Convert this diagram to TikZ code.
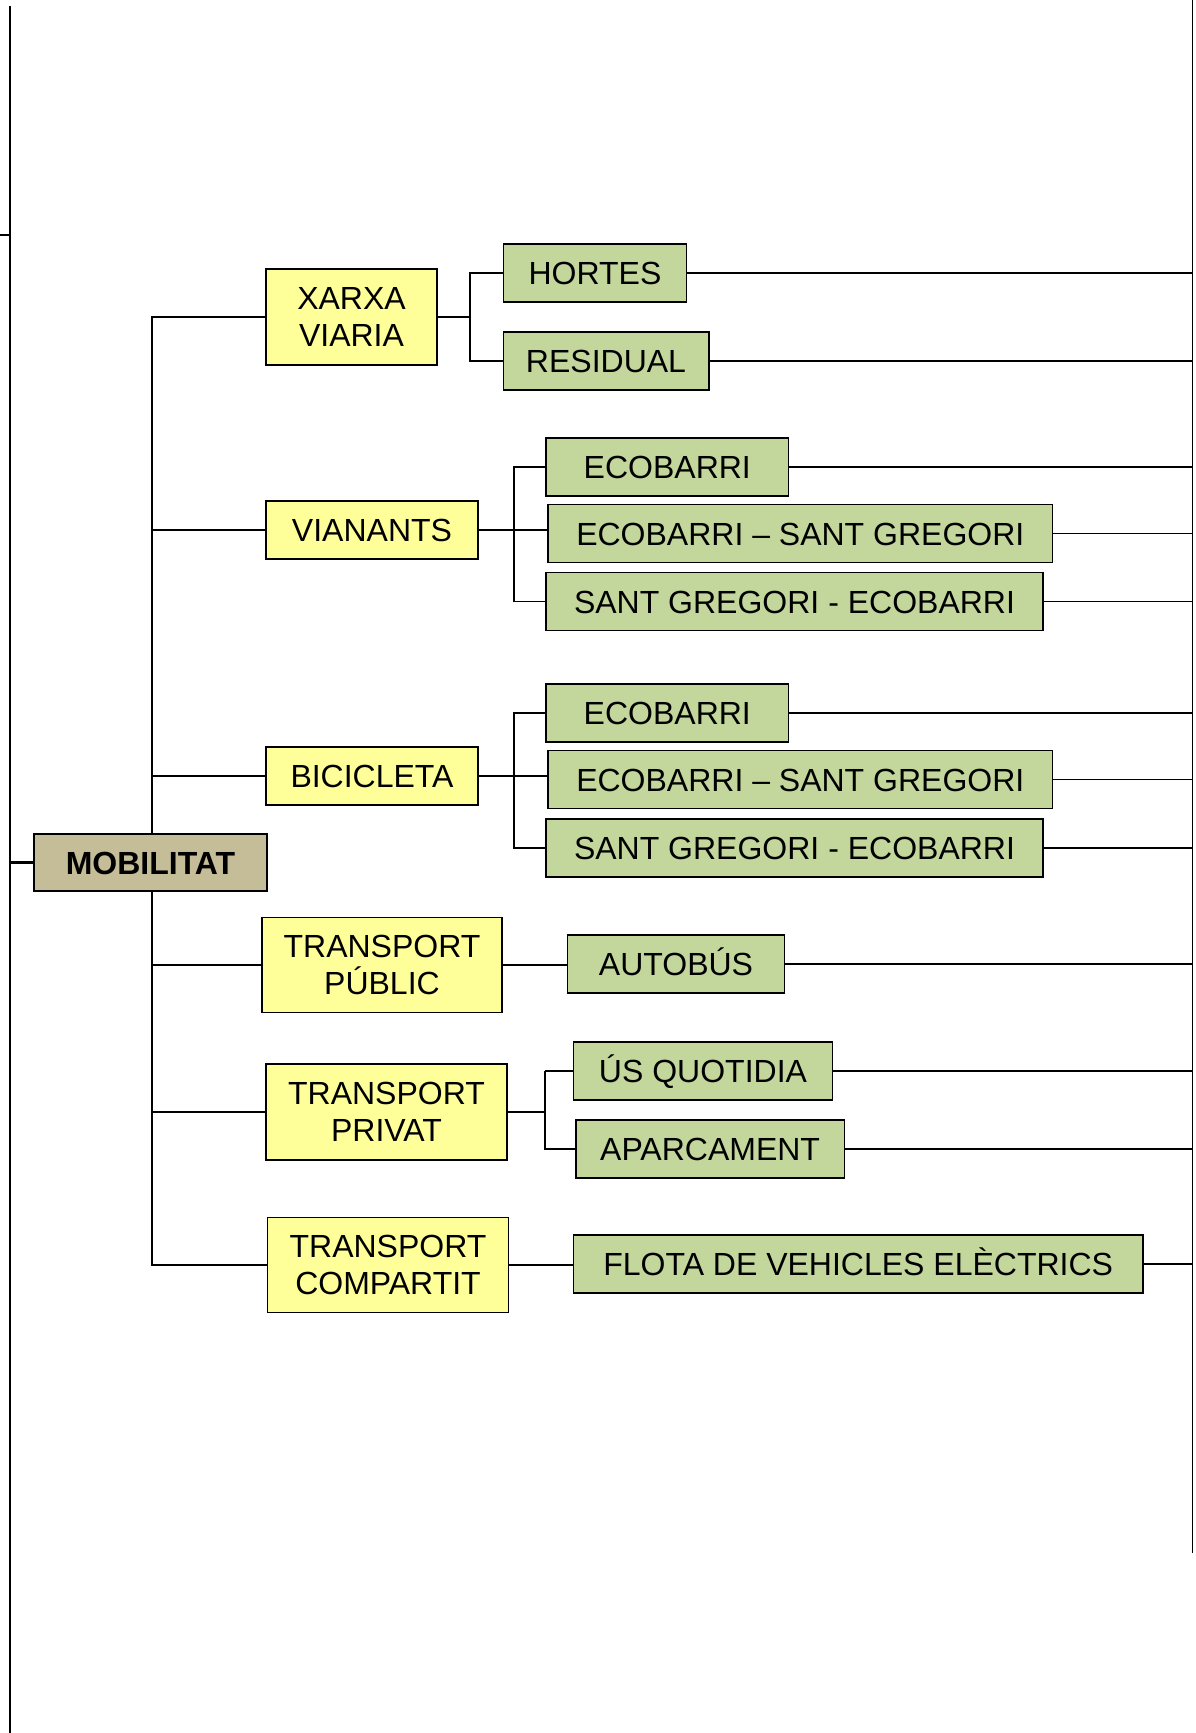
\documentclass[tikz,border=0pt]{standalone}
\usepackage{fontspec}
\setmainfont{Liberation Sans}
\usetikzlibrary{backgrounds}
\definecolor{yelfill}{HTML}{FFFF99}
\definecolor{grnfill}{HTML}{C3D69B}
\definecolor{tanfill}{HTML}{C4BD97}
\begin{document}
\begin{tikzpicture}[x=1pt,y=-1pt,
  box/.style={draw=black, line width=1.5pt, inner sep=0pt, minimum height=58pt,
    font=\fontsize{32}{37}\selectfont, align=center},
  onel/.style={text height=23pt, text depth=0pt},
  yel/.style={box, fill=yelfill},
  grn/.style={box, onel, fill=grnfill},
  root/.style={box, onel, fill=tanfill, font=\fontsize{32}{37}\selectfont\bfseries},
  link/.style={line width=1.5pt},
  heavy/.style={line width=2.4pt},
  frame/.style={line width=1.5pt}]
\useasboundingbox (0,0) rectangle (1195,1733);

% page frame lines
\coordinate (fl0) at (10,6);
\coordinate (fl1) at (10,1733);
\coordinate (fr0) at (1192.5,0);
\coordinate (fr1) at (1192.5,1553);
\coordinate (tk0) at (0,235);
\draw[frame] (fl0) -- (fl1);
\draw[frame] (fr0) -- (fr1);
\draw[frame] (tk0) -- (tk0 -| fl0);

% bracket and trunk positions
\coordinate (trk) at (152,0);
\coordinate (bxv) at (470,0);
\coordinate (bvi) at (514,0);
\coordinate (bpr) at (545,0);

% second level
\node[yel, minimum width=171pt, minimum height=96pt] (xv) at (351.5,317) {XARXA\\VIARIA};
\node[yel, onel, minimum width=212pt] (vian) at (372,530) {VIANANTS};
\node[yel, onel, minimum width=212pt] (bici) at (372,776) {BICICLETA};
\node[yel, minimum width=240pt, minimum height=95pt] (tpub) at (382,965) {TRANSPORT\\PÚBLIC};
\node[yel, minimum width=241pt, minimum height=96pt] (tpriv) at (386.5,1112) {TRANSPORT\\PRIVAT};
\node[yel, minimum width=241pt, minimum height=95pt] (tcomp) at (388,1265) {TRANSPORT\\COMPARTIT};

% third level
\node[grn, minimum width=183pt] (hortes) at (595,273) {HORTES};
\node[grn, minimum width=205.5pt] (resid) at (606,361) {RESIDUAL};
\node[grn, minimum width=242.6pt] (v1) at (667.3,467) {ECOBARRI};
\node[grn, minimum width=504.7pt] (v2) at (800.3,533.5) {ECOBARRI – SANT GREGORI};
\node[grn, minimum width=497pt] (v3) at (794.5,601.7) {SANT GREGORI - ECOBARRI};
\node[grn, minimum width=242.6pt] (b1) at (667.3,713.2) {ECOBARRI};
\node[grn, minimum width=504.7pt] (b2) at (800.3,779.7) {ECOBARRI – SANT GREGORI};
\node[grn, minimum width=497pt] (b3) at (794.5,848.2) {SANT GREGORI - ECOBARRI};
\node[grn, minimum width=217.2pt] (bus) at (676,963.9) {AUTOBÚS};
\node[grn, minimum width=258.8pt] (usq) at (703,1071.2) {ÚS QUOTIDIA};
\node[grn, minimum width=268.6pt] (aparc) at (710.1,1148.9) {APARCAMENT};
\node[grn, minimum width=569.1pt] (flota) at (858.2,1263.9) {FLOTA DE VEHICLES ELÈCTRICS};

% root
\node[root, minimum width=233pt, minimum height=57pt] (mob) at (150.5,862.5) {MOBILITAT};

\begin{scope}[on background layer]
% trunk from the root to each category
\draw[link] (xv.west) -- (xv.west -| trk) -- (tcomp.west -| trk) -- (tcomp.west);
\draw[link] (vian.west) -- (vian.west -| trk);
\draw[link] (bici.west) -- (bici.west -| trk);
\draw[link] (tpub.west) -- (tpub.west -| trk);
\draw[link] (tpriv.west) -- (tpriv.west -| trk);
\draw[heavy] (mob.west) -- (mob.west -| fl0);

% brackets to the sub-items
\draw[link] (xv.east) -- (xv.east -| bxv);
\draw[link] (hortes.west) -- (hortes.west -| bxv) -- (resid.west -| bxv) -- (resid.west);

\draw[link] (vian.east) -- (vian.east -| v2.west);
\draw[link] (v1.west) -- (v1.west -| bvi) -- (v3.west -| bvi) -- (v3.west);

\draw[link] (bici.east) -- (bici.east -| b2.west);
\draw[link] (b1.west) -- (b1.west -| bvi) -- (b3.west -| bvi) -- (b3.west);

\draw[link] (tpub.east) -- (tpub.east -| bus.west);

\draw[link] (tpriv.east) -- (tpriv.east -| bpr);
\draw[heavy] (usq.west) -- (usq.west -| bpr);
\draw[link] (usq.west -| bpr) -- (aparc.west -| bpr) -- (aparc.west);

\draw[link] (tcomp.east) -- (tcomp.east -| flota.west);

% links out to the right frame
\draw[heavy] (hortes.east) -- (hortes.east -| fr0);
\draw[link] (resid.east) -- (resid.east -| fr0);
\draw[link] (v1.east) -- (v1.east -| fr0);
\draw[link] (v2.east) -- (v2.east -| fr0);
\draw[link] (v3.east) -- (v3.east -| fr0);
\draw[link] (b1.east) -- (b1.east -| fr0);
\draw[link] (b2.east) -- (b2.east -| fr0);
\draw[link] (b3.east) -- (b3.east -| fr0);
\draw[link] (bus.east) -- (bus.east -| fr0);
\draw[heavy] (usq.east) -- (usq.east -| fr0);
\draw[link] (aparc.east) -- (aparc.east -| fr0);
\draw[link] (flota.east) -- (flota.east -| fr0);
\end{scope}
\end{tikzpicture}
\end{document}
